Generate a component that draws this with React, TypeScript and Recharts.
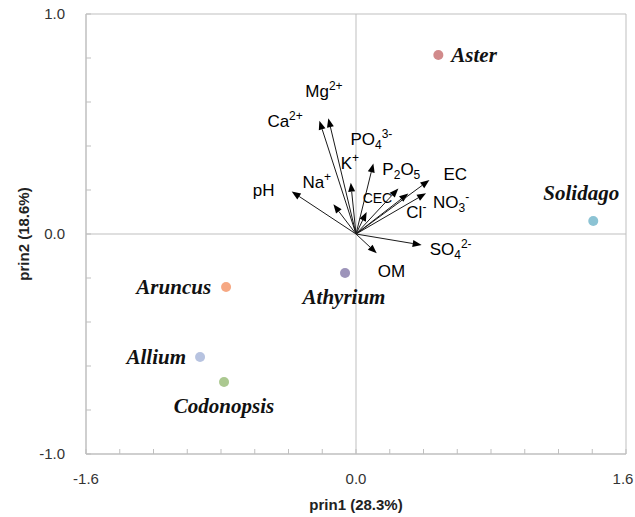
import React from "react";
import {
  ScatterChart,
  Scatter,
  XAxis,
  YAxis,
  ReferenceLine,
  ReferenceArea,
  Label,
} from "recharts";

// site scores
const species = ["Aster", "Solidago", "Athyrium", "Aruncus", "Allium", "Codonopsis"];
const prin1 = [0.488, 1.406, -0.065, -0.77, -0.924, -0.782];
const prin2 = [0.814, 0.059, -0.177, -0.241, -0.559, -0.673];

// soil variable loadings (arrows)
const variables = ["pH", "Na+", "Ca2+", "Mg2+", "K+", "PO43-", "CEC", "P2O5", "Cl-", "EC", "NO3-", "SO42-", "OM"];
const load1 = [-0.381, -0.134, -0.217, -0.164, -0.031, 0.103, 0.063, 0.251, 0.31, 0.435, 0.415, 0.389, 0.123];
const load2 = [0.193, 0.135, 0.515, 0.526, 0.233, 0.321, 0.1, 0.207, 0.184, 0.245, 0.185, -0.05, -0.088];

const xTicks = [-1.6, -1.4, -1.2, -1.0, -0.8, -0.6, -0.4, -0.2, 0, 0.2, 0.4, 0.6, 0.8, 1.0, 1.2, 1.4, 1.6];
const yTicks = [-1.0, -0.8, -0.6, -0.4, -0.2, 0, 0.2, 0.4, 0.6, 0.8, 1.0];
const xLabelTicks = [-1.6, 0, 1.6];
const yLabelTicks = [-1.0, 0, 1.0];

const siteData = species.map((name, i) => ({ name, x: prin1[i], y: prin2[i] }));

const siteColor: Record<string, string> = {
  Aster: "#d18a8b",
  Solidago: "#8cc3d4",
  Athyrium: "#9d94ba",
  Aruncus: "#f6a883",
  Allium: "#b7c3e0",
  Codonopsis: "#abc890",
};

// text placement relative to the point, in px
const siteLabel: Record<string, { dx: number; dy: number; anchor: string }> = {
  Aster: { dx: 13, dy: 7, anchor: "start" },
  Solidago: { dx: -12, dy: -21, anchor: "middle" },
  Athyrium: { dx: -1, dy: 31, anchor: "middle" },
  Aruncus: { dx: -15, dy: 7, anchor: "end" },
  Allium: { dx: -14, dy: 7, anchor: "end" },
  Codonopsis: { dx: 0, dy: 31, anchor: "middle" },
};

const varLabel: Record<string, { dx: number; dy: number }> = {
  pH: { dx: -39, dy: 4 },
  "Na+": { dx: -31, dy: -16 },
  "Ca2+": { dx: -52, dy: 6 },
  "Mg2+": { dx: -23, dy: -21 },
  "K+": { dx: -10, dy: -14 },
  "PO43-": { dx: -23, dy: -18 },
  CEC: { dx: -4, dy: -9 },
  P2O5: { dx: -16, dy: -13 },
  "Cl-": { dx: -2, dy: 24 },
  EC: { dx: 14, dy: 0 },
  "NO3-": { dx: 7, dy: 15 },
  "SO42-": { dx: 8, dy: 10 },
  OM: { dx: 1, dy: 24 },
};

const small = 12;

const sup = (t: string) => (
  <tspan fontSize={small} dy={-7}>{t}</tspan>
);

// sub then sup, side by side (PO4 3-, NO3 -, SO4 2-)
const subSup = (b: string, t: string) => (
  <>
    <tspan fontSize={small} dy={4}>{b}</tspan>
    <tspan fontSize={small} dy={-11}>{t}</tspan>
  </>
);

function chem(name: string) {
  switch (name) {
    case "Na+":
      return <>Na{sup("+")}</>;
    case "Ca2+":
      return <>Ca{sup("2+")}</>;
    case "Mg2+":
      return <>Mg{sup("2+")}</>;
    case "K+":
      return <>K{sup("+")}</>;
    case "PO43-":
      return <>PO{subSup("4", "3-")}</>;
    case "P2O5":
      return (
        <>
          P<tspan fontSize={small} dy={4}>2</tspan>
          <tspan dy={-4}>O</tspan>
          <tspan fontSize={small} dy={4}>5</tspan>
        </>
      );
    case "Cl-":
      return <>Cl{sup("-")}</>;
    case "NO3-":
      return <>NO{subSup("3", "-")}</>;
    case "SO42-":
      return <>SO{subSup("4", "2-")}</>;
    default:
      return name;
  }
}

const arrowLine = (name: string) => (props: any) => {
  const pts = props.points || [];
  if (pts.length < 2) return <g />;
  const a = pts[0];
  const b = pts[1];
  const ang = Math.atan2(b.y - a.y, b.x - a.x);
  const c = Math.cos(ang);
  const s = Math.sin(ang);
  const len = 9;
  const half = 3.5;
  const bx = b.x - len * c;
  const by = b.y - len * s;
  const off = varLabel[name];
  return (
    <g>
      <line x1={a.x} y1={a.y} x2={bx} y2={by} stroke="#1a1a1a" strokeWidth={1} />
      <polygon
        points={`${b.x},${b.y} ${bx - half * s},${by + half * c} ${bx + half * s},${by - half * c}`}
        fill="#000"
      />
      <text
        x={b.x + off.dx}
        y={b.y + off.dy}
        fontFamily="'Liberation Sans', Arial, sans-serif"
        fontSize={name === "CEC" ? 14 : 17}
        fill="#000"
      >
        {chem(name)}
      </text>
    </g>
  );
};

function SiteDot(props: any) {
  const { cx, cy, payload } = props;
  const lab = siteLabel[payload.name];
  return (
    <g>
      <circle cx={cx} cy={cy} r={5} fill={siteColor[payload.name]} />
      <text
        x={cx + lab.dx}
        y={cy + lab.dy}
        textAnchor={lab.anchor as any}
        fontFamily="'Liberation Serif', 'Times New Roman', serif"
        fontWeight="bold"
        fontStyle="italic"
        fontSize={21}
        fill="#111"
      >
        {payload.name}
      </text>
    </g>
  );
}

const near = (list: number[], v: number) => list.some((t) => Math.abs(t - v) < 1e-6);
const tickFont = "'Liberation Sans', Arial, sans-serif";

function XTick(props: any) {
  const { x, y, payload } = props;
  const v = payload.value as number;
  // the right-most label is nudged in so it stays on the page
  const lx = v > 1.5 ? x - 3 : x;
  return (
    <g>
      <line x1={x} x2={x} y1={y} y2={y - 5} stroke="#bfbfbf" />
      {near(xLabelTicks, v) && (
        <text x={lx} y={y + 30} textAnchor="middle" fontFamily={tickFont} fontSize={15} fill="#333">
          {v.toFixed(1)}
        </text>
      )}
    </g>
  );
}

function YTick(props: any) {
  const { x, y, payload } = props;
  const v = payload.value as number;
  return (
    <g>
      <line x1={x} x2={x + 5} y1={y} y2={y} stroke="#bfbfbf" />
      {near(yLabelTicks, v) && (
        <text x={x - 21} y={y + 5} textAnchor="end" fontFamily={tickFont} fontSize={15} fill="#333">
          {v.toFixed(1)}
        </text>
      )}
    </g>
  );
}

export default function App() {
  return (
    <div style={{ position: "absolute", left: 0, top: 0, width: 635, height: 517, background: "#fff" }}>
      <ScatterChart width={635} height={517} margin={{ top: 14, right: 9, left: 0, bottom: 0 }}>
        <XAxis
          type="number"
          dataKey="x"
          domain={[-1.6, 1.6]}
          ticks={xTicks}
          interval={0}
          allowDataOverflow
          height={63}
          tickSize={0}
          tickMargin={0}
          tickLine={false}
          axisLine={{ stroke: "#bfbfbf" }}
          tick={<XTick />}
        >
          <Label
            content={(p: any) => {
              const vb = p.viewBox || { x: 86, y: 454, width: 540 };
              return (
                <text
                  x={vb.x + vb.width / 2}
                  y={vb.y + 56}
                  textAnchor="middle"
                  fontFamily={tickFont}
                  fontWeight="bold"
                  fontSize={15}
                  fill="#222"
                >
                  prin1 (28.3%)
                </text>
              );
            }}
          />
        </XAxis>
        <YAxis
          type="number"
          dataKey="y"
          domain={[-1, 1]}
          ticks={yTicks}
          interval={0}
          allowDataOverflow
          width={86}
          tickSize={0}
          tickMargin={0}
          tickLine={false}
          axisLine={{ stroke: "#bfbfbf" }}
          tick={<YTick />}
        >
          <Label
            content={(p: any) => {
              const vb = p.viewBox || { x: 0, y: 14, height: 440 };
              const cy = vb.y + vb.height / 2;
              return (
                <text
                  x={23}
                  y={cy}
                  transform={`rotate(-90 23 ${cy})`}
                  textAnchor="middle"
                  dominantBaseline="central"
                  fontFamily={tickFont}
                  fontWeight="bold"
                  fontSize={15}
                  fill="#222"
                >
                  prin2 (18.6%)
                </text>
              );
            }}
          />
        </YAxis>
        <ReferenceArea x1={-1.6} x2={1.6} y1={-1} y2={1} fill="none" stroke="#bfbfbf" />
        <ReferenceLine x={0} stroke="#bfbfbf" />
        <ReferenceLine y={0} stroke="#bfbfbf" />
        {variables.map((name, i) => (
          <Scatter
            key={name}
            data={[
              { x: 0, y: 0 },
              { x: load1[i], y: load2[i] },
            ]}
            line={arrowLine(name)}
            shape={() => <g />}
            isAnimationActive={false}
          />
        ))}
        <Scatter data={siteData} shape={<SiteDot />} isAnimationActive={false} />
      </ScatterChart>
    </div>
  );
}
